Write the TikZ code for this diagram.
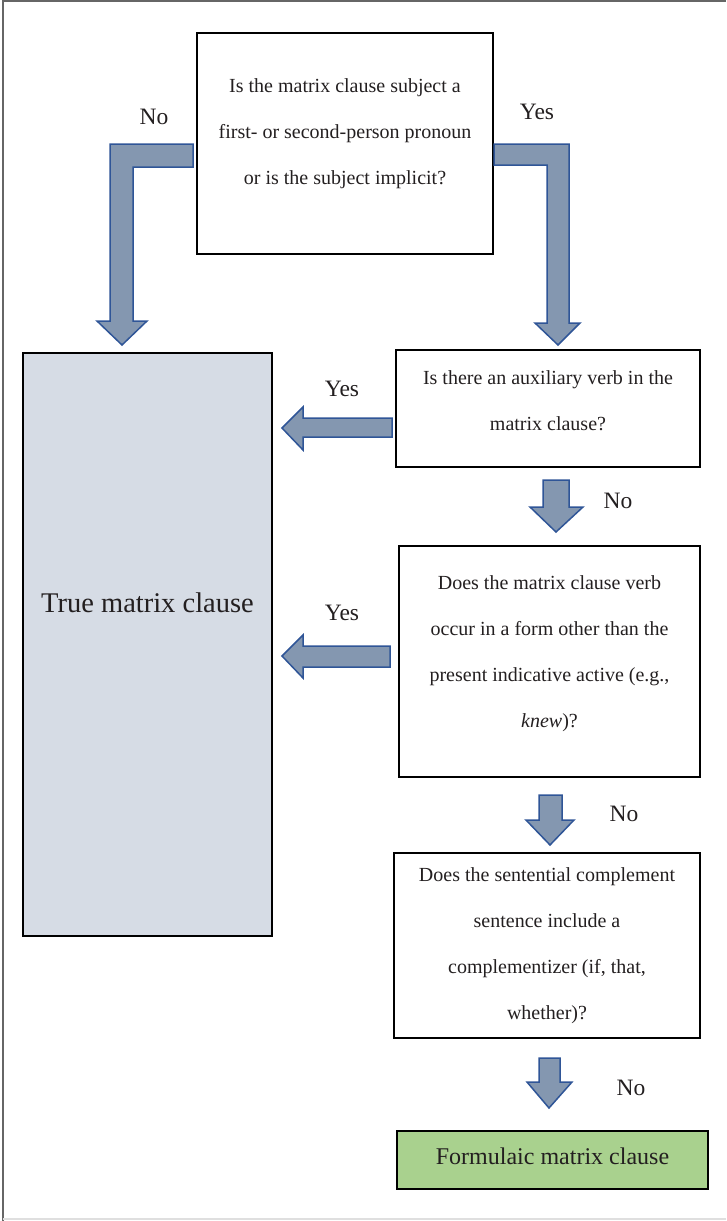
\documentclass[tikz,border=0pt]{standalone}
\usepackage{fontspec}
\setmainfont{Liberation Serif}
\definecolor{arrowfill}{HTML}{8497B0}
\definecolor{arrowline}{HTML}{2F5597}
\definecolor{truefill}{HTML}{D6DCE5}
\definecolor{formfill}{HTML}{A9D18E}
\definecolor{inkgray}{HTML}{231F20}
\tikzset{
  qbox/.style={
    draw=black,
    line width=2.5pt,
    rectangle,
    inner sep=0pt
  },
  qtext/.style={
    inner sep=0pt,
    align=center,
    text=inkgray,
    font=\fontsize{20}{46}\selectfont
  },
  answer/.style={
    text=inkgray,
    inner sep=0pt,
    font=\fontsize{23.5}{28}\selectfont
  },
  blockarrow/.style={
    fill=arrowfill,
    draw=arrowline,
    line width=1.5pt,
    line join=miter
  }
}

\begin{document}
\begin{tikzpicture}[x=1pt,y=-1pt]
\useasboundingbox (0,0) rectangle (726,1221);
% page frame
\draw[gray!80!black, line width=2pt] (3,1221) -- (3,1) -- (726,1);
\draw[gray!25, line width=1.5pt] (3,1219) -- (726,1219);

% boxes
\node[qbox, minimum width=296, minimum height=221] (subj) at (345,143.5) {};
\node[qbox, fill=truefill, minimum width=249, minimum height=583] (true) at (147.5,644.5) {};
\node[qbox, minimum width=304, minimum height=117] (aux) at (548,408.5) {};
\node[qbox, minimum width=301, minimum height=231] (form) at (549.5,661.5) {};
\node[qbox, minimum width=306, minimum height=185] (comp) at (547,945.5) {};
\node[qbox, fill=formfill, minimum width=311, minimum height=58] (formulaic) at (552.5,1160) {};

% box texts
\node[qtext] (subjtext) at ([yshift=10pt]subj.center)
  {Is the matrix clause subject a\\first- or second-person pronoun\\or is the subject implicit?};
\node[qtext, font=\fontsize{28.5}{32}\selectfont] (truetext) at ([yshift=42pt]true.center)
  {True matrix clause};
\node[qtext] (auxtext) at ([yshift=8pt]aux.center)
  {Is there an auxiliary verb in the\\matrix clause?};
\node[qtext] (formtext) at ([yshift=8pt]form.center)
  {Does the matrix clause verb\\occur in a form other than the\\present indicative active (e.g.,\\\textit{knew})?};
\node[qtext] (comptext) at (comp.center)
  {Does the sentential complement\\sentence include a\\complementizer (if, that,\\whether)?};
\node[qtext, font=\fontsize{24}{28}\selectfont] (formulaictext) at ([yshift=4pt]formulaic.center)
  {Formulaic matrix clause};

% answers
\node[answer] (noA) at (154,117) {No};
\node[answer] (yesA) at (537,112) {Yes};
\node[answer] (yesB) at (342,389) {Yes};
\node[answer] (noB) at (618,501) {No};
\node[answer] (yesC) at (342,613) {Yes};
\node[answer] (noC) at (624,814) {No};
\node[answer] (noD) at (631,1088) {No};

% block arrows
\draw[blockarrow] (193,144) -- (110,144) -- (110,321) -- (97,321) -- (122,345)
  -- (147,321) -- (133,321) -- (133,167) -- (193,167) -- cycle;
\draw[blockarrow] (494,144) -- (569,144) -- (569,323) -- (580,323) -- (558,345)
  -- (535,323) -- (547,323) -- (547,165) -- (494,165) -- cycle;
\draw[blockarrow] (392,418) -- (303,418) -- (303,407) -- (282,428) -- (303,450)
  -- (303,437) -- (392,437) -- cycle;
\draw[blockarrow] (390,646) -- (303,646) -- (303,635) -- (282,656) -- (303,678)
  -- (303,667) -- (390,667) -- cycle;
\draw[blockarrow] (543,480) -- (569,480) -- (569,507) -- (583,507) -- (556,532)
  -- (530,507) -- (543,507) -- cycle;
\draw[blockarrow] (539,795) -- (562,795) -- (562,820) -- (574,820) -- (550,845)
  -- (526,820) -- (539,820) -- cycle;
\draw[blockarrow] (539,1058) -- (560,1058) -- (560,1082) -- (572,1082) -- (549,1108)
  -- (527,1082) -- (539,1082) -- cycle;
\end{tikzpicture}
\end{document}
